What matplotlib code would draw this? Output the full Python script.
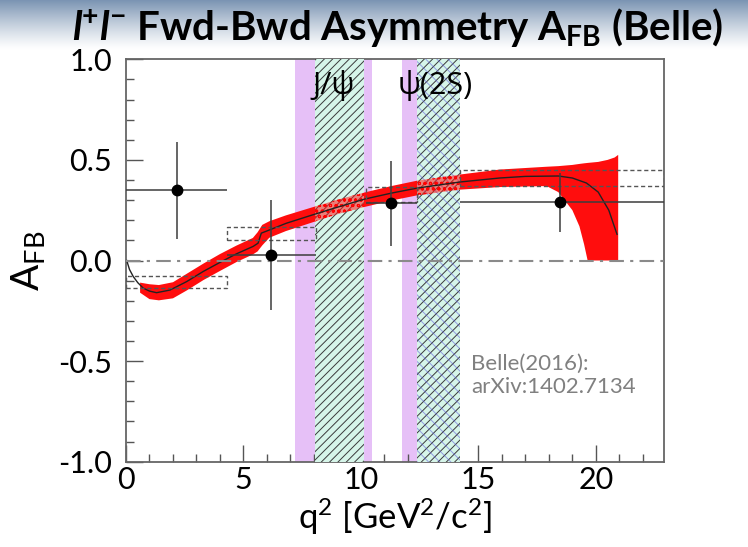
import numpy as np
import matplotlib
matplotlib.use("Agg")
import matplotlib.pyplot as plt
from matplotlib.patches import Rectangle
from matplotlib.ticker import MultipleLocator, FormatStrFormatter

plt.rcParams['font.family'] = ['Lato', 'Open Sans', 'DejaVu Sans']
plt.rcParams['axes.unicode_minus'] = False
plt.rcParams['mathtext.fontset'] = 'custom'
plt.rcParams['mathtext.rm'] = 'Lato'
plt.rcParams['mathtext.it'] = 'Lato:italic'
plt.rcParams['mathtext.bf'] = 'Lato:bold'
plt.rcParams['mathtext.bfit'] = 'Lato:bold:italic'
plt.rcParams['hatch.linewidth'] = 0.7

# ---------------- data ----------------
# veto regions (q^2 in GeV^2/c^2)
jpsi_purple = [(7.2, 8.03), (10.15, 10.45)]
jpsi_hatch = (8.03, 10.15)
psi2s_purple = (11.73, 12.39)
psi2s_hatch = (12.39, 14.22)

# Belle measurements
bin_lo = [0.0, 4.3, 10.2, 14.22]
bin_hi = [4.3, 8.1, 12.4, 22.9]
afb_q = [2.15, 6.16, 11.28, 18.47]
afb_val = [0.35, 0.027, 0.285, 0.29]
afb_err_up = [0.24, 0.273, 0.21, 0.145]
afb_err_dn = [0.245, 0.272, 0.215, 0.15]

# SM prediction per bin (boxes)
sm_lo = [-0.135, 0.10, 0.29, 0.37]
sm_hi = [-0.075, 0.167, 0.367, 0.45]

# SM band
band_q = [0.6, 1.0, 1.4, 2.0, 2.6, 3.3, 4.0, 4.7, 5.4, 5.6, 5.8, 6.1, 6.8, 7.95,
          9.0, 10.15, 11.3, 12.4, 14.2, 15.9, 17.9, 18.4, 19.0, 19.3, 19.5,
          19.65, 20.1, 20.5, 20.8, 20.95]
band_lo = [-0.16, -0.192, -0.198, -0.188, -0.148, -0.097, -0.052, -0.008, 0.03, 0.045,
           0.075, 0.113, 0.146, 0.19, 0.23, 0.266, 0.298, 0.324, 0.352, 0.365,
           0.37, 0.34, 0.25, 0.17, 0.08, 0.0, 0.0, 0.0, 0.0, 0.0]
band_hi = [-0.11, -0.118, -0.122, -0.108, -0.065, -0.015, 0.032, 0.074, 0.112, 0.14,
           0.177, 0.195, 0.224, 0.265, 0.302, 0.338, 0.37, 0.397, 0.427, 0.452,
           0.466, 0.469, 0.475, 0.48, 0.483, 0.485, 0.49, 0.50, 0.512, 0.525]

# SM central curve
line_q = [0.03, 0.15, 0.31, 0.5, 0.73, 1.0, 1.3, 1.87, 2.58, 3.28, 3.99, 4.7,
          5.41, 5.62, 5.76, 6.11, 6.82, 7.95, 9.0, 10.15, 11.3, 12.4, 14.2,
          15.9, 17.0, 18.4, 19.0, 19.6, 20.1, 20.55, 20.9]
line_val = [0.0, -0.045, -0.08, -0.11, -0.137, -0.152, -0.16, -0.147, -0.105,
            -0.055, -0.01, 0.033, 0.07, 0.086, 0.136, 0.152, 0.185, 0.227,
            0.265, 0.305, 0.335, 0.36, 0.39, 0.41, 0.418, 0.42, 0.41, 0.385,
            0.34, 0.25, 0.13]

x_ticks = [0, 5, 10, 15, 20]
y_ticks = [-1.0, -0.5, 0.0, 0.5, 1.0]

# ---------------- figure ----------------
fig = plt.figure(figsize=(7.48, 5.47), dpi=100)

# gradient header
gax = fig.add_axes([0, 1 - 62 / 547, 1, 62 / 547], zorder=-10)
t = np.linspace(0, 1, 200)[:, None]
ramp = np.clip(1 - t / 0.8, 0, 1) ** 1.2
top = np.array([0.48, 0.58, 0.70])
img = 1 - ramp[..., None] * (1 - top)[None, None, :]
img = np.repeat(img, 2, axis=1)
gax.imshow(img, aspect='auto', extent=[0, 1, 0, 1])
gax.set_axis_off()

ax = fig.add_axes([126 / 748, 1 - 461.7 / 547, (664 - 126) / 748, (461.7 - 59.3) / 547])
ax.set_xlim(0, 22.9)
ax.set_ylim(-1.0, 1.0)

purple = '#e6c0f7'
mint = '#d6f5e9'
for a, b in jpsi_purple + [psi2s_purple]:
    ax.axvspan(a, b, facecolor=purple, lw=0, zorder=1)

# red SM band
ax.fill_between(band_q, band_lo, band_hi, facecolor='#ff0d0d', lw=0, zorder=2)

# hatched veto bands
for (a, b) in [jpsi_hatch, psi2s_hatch]:
    ax.axvspan(a, b, facecolor=mint, edgecolor='#3a3a3a', hatch='////', lw=0, zorder=3)
ax.axvspan(psi2s_hatch[0], psi2s_hatch[1], facecolor='none', edgecolor='#5a55d8',
           hatch='\\\\\\', lw=0, zorder=3.2, alpha=0.55)

# red pattern inside hatched bands
for (a, b) in [jpsi_hatch, psi2s_hatch]:
    coll = ax.fill_between(band_q, band_lo, band_hi, facecolor=(1, 0.1, 0.1, 0.55),
                           edgecolor='#ff0000', hatch='ooo', lw=0, zorder=4)
    clip = Rectangle((a, -1), b - a, 2, transform=ax.transData)
    coll.set_clip_path(clip)

# central curve
ax.plot(line_q, line_val, color='#222222', lw=1.0, zorder=5)

# zero line
ax.axhline(0, color='#8a8a8a', lw=1.5, dashes=(7, 3, 1.5, 3), zorder=5)

# SM boxes
for lo_x, hi_x, lo_y, hi_y in zip(bin_lo, bin_hi, sm_lo, sm_hi):
    ax.add_patch(Rectangle((lo_x, lo_y), hi_x - lo_x, hi_y - lo_y, facecolor='none',
                           edgecolor='#555555', lw=1.0, ls=(0, (3, 2)), zorder=5.5))

# data points
xerr_lo = [q - l for q, l in zip(afb_q, bin_lo)]
xerr_hi = [h - q for q, h in zip(afb_q, bin_hi)]
ax.errorbar(afb_q, afb_val, xerr=[xerr_lo, xerr_hi], yerr=[afb_err_dn, afb_err_up],
            fmt='o', color='black', ecolor='#3c3c3c', elinewidth=1.1, ms=7.5,
            capsize=0, zorder=6)

# labels for resonances
ax.text(7.95, 0.83, 'J/\u03c8', fontsize=22, color='black', zorder=7,
        family=['Open Sans', 'DejaVu Sans'])
ax.text(11.55, 0.83, '\u03c8(2S)', fontsize=22, color='black', zorder=7,
        family=['Open Sans', 'DejaVu Sans'])

ax.text(14.7, -0.68, 'Belle(2016):\narXiv:1402.7134', fontsize=16, color='#808080',
        linespacing=1.2, zorder=7, va='bottom')

# axes styling
for s in ax.spines.values():
    s.set_color('#666666')
    s.set_linewidth(1.3)
ax.xaxis.set_major_locator(MultipleLocator(5))
ax.xaxis.set_minor_locator(MultipleLocator(1))
ax.yaxis.set_major_locator(MultipleLocator(0.5))
ax.yaxis.set_minor_locator(MultipleLocator(0.1))
ax.set_xticks(x_ticks)
ax.set_yticks(y_ticks)
ax.yaxis.set_major_formatter(FormatStrFormatter('%.1f'))
ax.tick_params(which='both', direction='in', color='#555555', width=1.0,
               top=False, right=False)
ax.tick_params(which='major', length=12, labelsize=22)
ax.tick_params(axis='x', which='major', pad=3)
ax.tick_params(axis='y', which='major', pad=10)
ax.tick_params(which='minor', length=6)

ax.set_xlabel(r'q$^{2}$ [GeV$^{2}$/c$^{2}$]', fontsize=25, labelpad=2)
ax.set_ylabel(r'A$_{\mathrm{FB}}$', fontsize=28, labelpad=8)

fig.text(0.532, 1 - 40 / 547,
         r'$\mathbfit{l}^{\mathbf{+}}\mathbfit{l}^{\mathbf{-}}$ Fwd-Bwd Asymmetry A$_{\mathbf{FB}}$ (Belle)',
         fontsize=29, fontweight='bold', ha='center', va='baseline', color='black')

fig.savefig('out.png', dpi=100)
